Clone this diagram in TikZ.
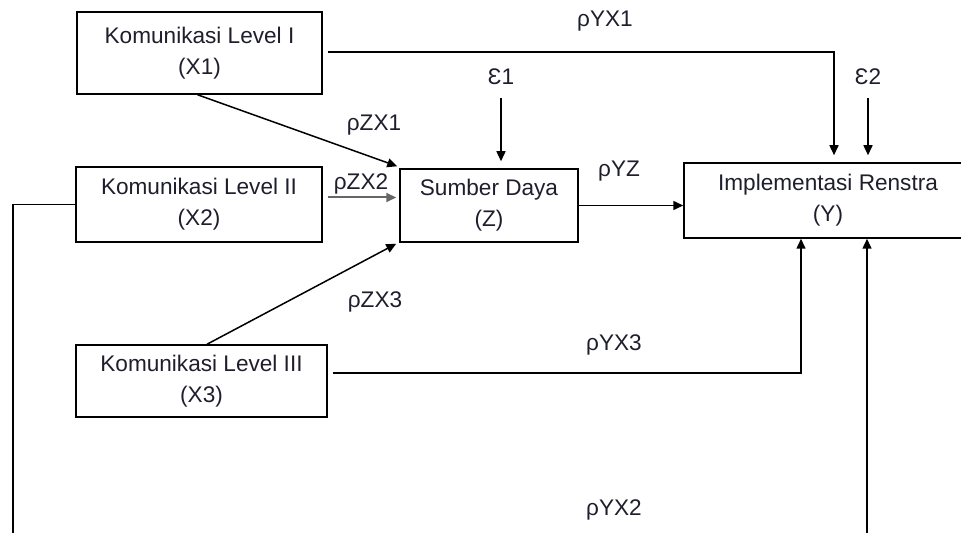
\documentclass[tikz,border=0pt]{standalone}
\usepackage{fontspec}
\setmainfont{Liberation Sans}
\usetikzlibrary{arrows.meta,calc}
\definecolor{txt}{RGB}{30,30,45}
\begin{document}
\begin{tikzpicture}[x=0.5pt,y=-0.5pt,
  font=\fontsize{11.3}{15.5}\selectfont,
  box/.style={draw, line width=0.75pt, align=center, text=txt, inner sep=0pt},
  lbl/.style={text=txt, inner sep=1.5pt},
  arr/.style={line width=0.75pt, -{Triangle[length=5pt,width=4.5pt]}},
  ln/.style={line width=0.75pt}]
\useasboundingbox (0,0) rectangle (961,533);
\clip (0,0) rectangle (961,533);
% boxes
\node[box, minimum width=122.5pt, minimum height=41pt] (X1) at (199.5,53) {Komunikasi Level I\\(X1)};
\node[box, minimum width=123pt, minimum height=37.5pt] (X2) at (199,204.5) {Komunikasi Level II\\(X2)};
\node[box, minimum width=125.5pt, minimum height=36pt] (X3) at (201.5,381) {Komunikasi Level III\\(X3)};
\node[box, minimum width=89pt, minimum height=36.5pt] (Z) at (489,205.5) {Sumber Daya\\(Z)};
\node[box, minimum width=144pt, minimum height=37.5pt] (Y) at (828,200.5) {Implementasi Renstra\\(Y)};
% labels
\node[lbl] (lYX1) at (605,21) {ρYX1};
\node[lbl] (e1) at (501,77) {Ɛ1};
\node[lbl] (e2) at (868,77) {Ɛ2};
\node[lbl] (lZX1) at (374,125) {ρZX1};
\node[lbl] (lZX2) at (361,184) {ρZX2};
\node[lbl] (lYZ) at (619,171) {ρYZ};
\node[lbl] (lZX3) at (375,302) {ρZX3};
\node[lbl] (lYX3) at (614,345) {ρYX3};
\node[lbl] (lYX2) at (614,510) {ρYX2};
% connectors
\draw[arr, shorten >=3.5pt] ($(X1.east)+(5,-1)$) -| ($(Y.north)+(6,0)$);
\draw[arr, shorten >=3.5pt, shorten <=5pt] (e1.south) -- (e1.south |- Z.north);
\draw[arr, shorten >=3.5pt, shorten <=5pt] (e2.south) -- (e2.south |- Y.north);
\draw[arr] ($(X1.south)+(-2,0)$) -- ($(Z.north west)+(-2,-2)$);
\draw[arr, line width=1pt, draw=black!60] ($(X2.east)+(5,-7)$) -- ($(Z.west)+(-3,-8)$);
\draw[arr] ($(X3.north)+(5.5,0)$) -- ($(Z.south west)+(-3,1)$);
\draw[arr] (Z.east) -- (Z.east -| Y.west);
\draw[arr] ($(X3.east)+(5,-8)$) -| ($(Y.south)+(-27,0)$);
\draw[arr] (X2.west) -| (13,560) -| ($(Y.south)+(39,0)$);
\end{tikzpicture}
\end{document}
